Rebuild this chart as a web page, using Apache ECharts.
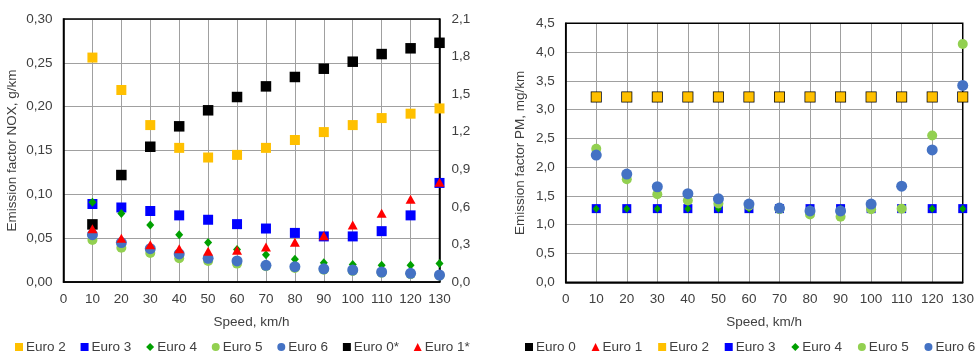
<!DOCTYPE html>
<html>
<head>
<meta charset="utf-8">
<script src="https://cdn.jsdelivr.net/npm/echarts@6/dist/echarts.min.js"></script>
<style>
html,body{margin:0;padding:0;background:#fff;}
#c{width:977px;height:353px;}
</style>
</head>
<body>
<div id="c"></div>
<script>
// ---- data ----
var speeds = [10, 20, 30, 40, 50, 60, 70, 80, 90, 100, 110, 120, 130];

// NOX, g/km (Euro 0* and Euro 1* on the secondary axis)
var noxEuro2 = [0.256, 0.219, 0.179, 0.153, 0.142, 0.145, 0.153, 0.162, 0.171, 0.179, 0.187, 0.192, 0.198];
var noxEuro3 = [0.089, 0.085, 0.081, 0.076, 0.071, 0.066, 0.061, 0.056, 0.052, 0.052, 0.058, 0.076, 0.113];
var noxEuro4 = [0.091, 0.078, 0.065, 0.054, 0.045, 0.037, 0.031, 0.026, 0.022, 0.020, 0.019, 0.019, 0.021];
var noxEuro5 = [0.048, 0.039, 0.033, 0.027, 0.024, 0.021, 0.018, 0.016, 0.014, 0.0125, 0.0105, 0.009, 0.0075];
var noxEuro6 = [0.054, 0.045, 0.038, 0.032, 0.027, 0.024, 0.019, 0.0175, 0.015, 0.0137, 0.0114, 0.0099, 0.008];
var noxEuro0s = [0.46, 0.854, 1.08, 1.243, 1.371, 1.477, 1.562, 1.637, 1.703, 1.759, 1.82, 1.866, 1.91];
var noxEuro1s = [0.426, 0.349, 0.298, 0.266, 0.245, 0.253, 0.279, 0.317, 0.37, 0.455, 0.549, 0.66, 0.796];

// PM, mg/km
var pmEuro0 = [3.22, 3.22, 3.22, 3.22, 3.22, 3.22, 3.22, 3.22, 3.22, 3.22, 3.22, 3.22, 3.22];
var pmEuro1 = [3.22, 3.22, 3.22, 3.22, 3.22, 3.22, 3.22, 3.22, 3.22, 3.22, 3.22, 3.22, 3.22];
var pmEuro2 = [3.22, 3.22, 3.22, 3.22, 3.22, 3.22, 3.22, 3.22, 3.22, 3.22, 3.22, 3.22, 3.22];
var pmEuro3 = [1.28, 1.28, 1.28, 1.28, 1.28, 1.28, 1.28, 1.28, 1.28, 1.28, 1.28, 1.28, 1.28];
var pmEuro4 = [1.28, 1.28, 1.28, 1.28, 1.28, 1.28, 1.28, 1.28, 1.28, 1.28, 1.28, 1.28, 1.28];
var pmEuro5 = [2.32, 1.79, 1.53, 1.42, 1.37, 1.33, 1.27, 1.18, 1.14, 1.27, 1.28, 2.55, 4.14];
var pmEuro6 = [2.21, 1.88, 1.66, 1.54, 1.45, 1.36, 1.29, 1.24, 1.24, 1.36, 1.67, 2.30, 3.42];

// tick settings
var xMin = 0, xMax = 130, xStep = 10;
var noxMin = 0, noxMax = 0.30, noxStep = 0.05;
var nox2Min = 0, nox2Max = 2.1, nox2Step = 0.3;
var pmMin = 0, pmMax = 4.5, pmStep = 0.5;

// ---- chart ----
var FONT = 'Liberation Sans, Arial, sans-serif';
var TXT = '#404040';
var GRIDC = '#a0a0a0';
var FS = 13.5;
function pairs(vals) { return speeds.map(function (s, i) { return [s, vals[i]]; }); }
function comma(d) { return function (v) { return v.toFixed(d).replace('.', ','); }; }

var C = {
  black: '#000000', red: '#ff0000', yellow: '#ffc000', blue: '#0000ff',
  green: '#00a000', lgreen: '#92d050', cblue: '#4472c4'
};

function xAxisDef(gi) {
  return {
    type: 'value', gridIndex: gi, min: xMin, max: xMax, interval: xStep,
    name: 'Speed, km/h', nameLocation: 'middle', nameGap: 33,
    nameTextStyle: { color: TXT, fontSize: FS, fontFamily: FONT },
    axisLine: { show: true, onZero: false, lineStyle: { color: '#000', width: 1.5 } },
    axisTick: { show: false },
    axisLabel: { color: TXT, fontSize: FS, fontFamily: FONT, margin: 10 },
    splitLine: { show: true, lineStyle: { color: GRIDC, width: 1 } }
  };
}

function sc(name, xi, yi, data, symbol, size, color, z, extra) {
  var s = {
    name: name, type: 'scatter', xAxisIndex: xi, yAxisIndex: yi,
    data: pairs(data), symbol: symbol, symbolSize: size,
    itemStyle: { color: color, opacity: 1 }, z: z,
    emphasis: { disabled: true }, animation: false
  };
  if (extra) { for (var k in extra) s.itemStyle[k] = extra[k]; }
  return s;
}

var option = {
  animation: false,
  textStyle: { fontFamily: FONT },
  grid: [
    { left: 63.5, top: 19, right: 537.5, bottom: 71, show: true, borderColor: '#000', borderWidth: 1.5, backgroundColor: 'transparent', z: 3 },
    { left: 565.7, top: 23.3, right: 12, bottom: 70.7, show: true, borderColor: '#000', borderWidth: 1.5, backgroundColor: 'transparent', z: 3 }
  ],
  xAxis: [xAxisDef(0), xAxisDef(1)],
  yAxis: [
    {
      type: 'value', gridIndex: 0, min: noxMin, max: noxMax, interval: noxStep, position: 'left',
      name: 'Emission factor NOX, g/km', nameLocation: 'middle', nameGap: 44, nameRotate: 90,
      nameTextStyle: { color: TXT, fontSize: FS, fontFamily: FONT },
      axisLine: { show: true, lineStyle: { color: '#000', width: 1.5 } },
      axisTick: { show: false },
      axisLabel: { color: TXT, fontSize: FS, fontFamily: FONT, margin: 11, formatter: comma(2) },
      splitLine: { show: true, lineStyle: { color: GRIDC, width: 1 } }
    },
    {
      type: 'value', gridIndex: 0, min: nox2Min, max: nox2Max, interval: nox2Step, position: 'right',
      axisLine: { show: true, lineStyle: { color: '#000', width: 1.5 } },
      axisTick: { show: false },
      axisLabel: { color: TXT, fontSize: FS, fontFamily: FONT, margin: 12, formatter: comma(1) },
      splitLine: { show: false }
    },
    {
      type: 'value', gridIndex: 1, min: pmMin, max: pmMax, interval: pmStep, position: 'left',
      name: 'Emission factor PM, mg/km', nameLocation: 'middle', nameGap: 38, nameRotate: 90,
      nameTextStyle: { color: TXT, fontSize: FS, fontFamily: FONT },
      axisLine: { show: true, lineStyle: { color: '#000', width: 1.5 } },
      axisTick: { show: false },
      axisLabel: { color: TXT, fontSize: FS, fontFamily: FONT, margin: 11, formatter: comma(1) },
      splitLine: { show: true, lineStyle: { color: GRIDC, width: 1 } }
    }
  ],
  legend: [
    {
      left: 15, top: 340, width: 480, padding: 0, itemWidth: 8, itemHeight: 8, itemGap: 14.8,
      textStyle: { color: TXT, fontSize: FS, fontFamily: FONT, padding: [0, 0, 0, -2] },
      data: [
        { name: 'Euro 2', icon: 'rect' },
        { name: 'Euro 3', icon: 'rect' },
        { name: 'Euro 4', icon: 'diamond' },
        { name: 'Euro 5', icon: 'circle' },
        { name: 'Euro 6', icon: 'circle' },
        { name: 'Euro 0*', icon: 'rect' },
        { name: 'Euro 1*', icon: 'triangle' }
      ],
      selectedMode: false
    },
    {
      left: 525, top: 340, width: 480, padding: 0, itemWidth: 8, itemHeight: 8, itemGap: 15.8,
      textStyle: { color: TXT, fontSize: FS, fontFamily: FONT, padding: [0, 0, 0, -2] },
      data: [
        { name: 'Euro 0', icon: 'rect' },
        { name: 'Euro 1', icon: 'triangle' },
        { name: 'Euro 2', icon: 'rect' },
        { name: 'Euro 3', icon: 'rect' },
        { name: 'Euro 4', icon: 'diamond' },
        { name: 'Euro 5', icon: 'circle' },
        { name: 'Euro 6', icon: 'circle' }
      ],
      selectedMode: false
    }
  ],
  series: [
    sc('Euro 2', 0, 0, noxEuro2, 'rect', 10, C.yellow, 10),
    sc('Euro 3', 0, 0, noxEuro3, 'rect', 10, C.blue, 11),
    sc('Euro 4', 0, 0, noxEuro4, 'diamond', [8, 9], C.green, 12),
    sc('Euro 5', 0, 0, noxEuro5, 'circle', 10, C.lgreen, 13),
    sc('Euro 6', 0, 0, noxEuro6, 'circle', 11, C.cblue, 14),
    sc('Euro 0*', 0, 1, noxEuro0s, 'rect', 10.5, C.black, 15),
    sc('Euro 1*', 0, 1, noxEuro1s, 'triangle', [10, 9], C.red, 16),

    sc('Euro 0', 1, 2, pmEuro0, 'rect', 11, C.black, 10),
    sc('Euro 1', 1, 2, pmEuro1, 'triangle', [9, 8], C.red, 11),
    sc('Euro 2', 1, 2, pmEuro2, 'rect', 9.5, C.yellow, 12),
    sc('Euro 3', 1, 2, pmEuro3, 'rect', 9, C.blue, 13),
    sc('Euro 4', 1, 2, pmEuro4, 'diamond', [7, 8], C.green, 14),
    sc('Euro 5', 1, 2, pmEuro5, 'circle', 10, C.lgreen, 15),
    sc('Euro 6', 1, 2, pmEuro6, 'circle', 11, C.cblue, 16)
  ]
};

var chart = echarts.init(document.getElementById('c'), null, { renderer: 'canvas' });
chart.setOption(option);
</script>
</body>
</html>
